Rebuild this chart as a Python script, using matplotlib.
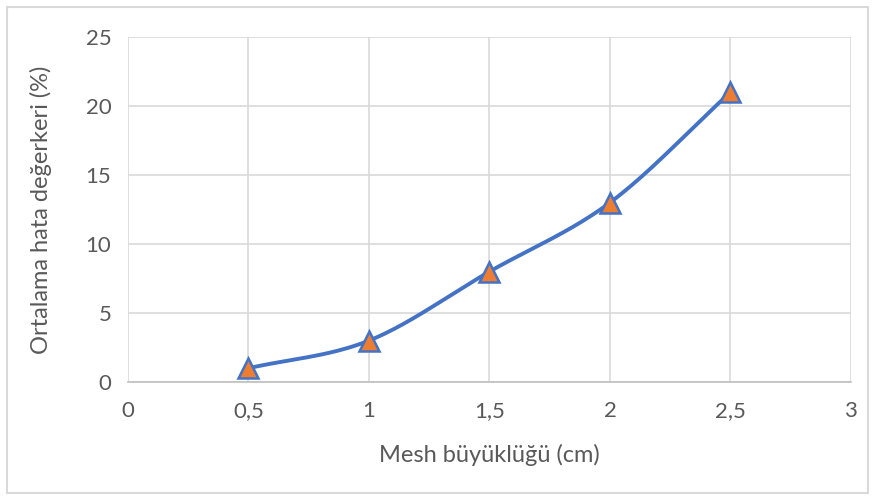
import numpy as np
import matplotlib.pyplot as plt

# data
mesh = [0.5, 1.0, 1.5, 2.0, 2.5]
error = [1, 3, 8, 13, 21]
xticks = [0, 0.5, 1, 1.5, 2, 2.5, 3]
yticks = [0, 5, 10, 15, 20, 25]

plt.rcParams['font.family'] = ['Lato', 'DejaVu Sans']


def smooth(xs, ys, n=40):
    # catmull-rom spline, similar to Excel's smoothed line
    p = np.column_stack([xs, ys]).astype(float)
    p = np.vstack([2 * p[0] - p[1], p, 2 * p[-1] - p[-2]])
    out = []
    t = np.linspace(0, 1, n)[:, None]
    for i in range(1, len(p) - 2):
        p0, p1, p2, p3 = p[i - 1], p[i], p[i + 1], p[i + 2]
        seg = 0.5 * ((2 * p1) + (-p0 + p2) * t + (2 * p0 - 5 * p1 + 4 * p2 - p3) * t ** 2
                     + (-p0 + 3 * p1 - 3 * p2 + p3) * t ** 3)
        out.append(seg)
    out = np.vstack(out)
    return out[:, 0], out[:, 1]


fig = plt.figure(figsize=(8.76, 5.01), dpi=100)
ax = fig.add_axes([0.1461, 0.2375, 0.8253, 0.6886])

sx, sy = smooth(mesh, error)
ax.plot(sx, sy, color='#4472C4', lw=2.8, solid_capstyle='round', zorder=3)
ax.plot(mesh, error, linestyle='none', marker='^', ms=15, mfc='#ED7D31',
        mec='#4472C4', mew=1.8, zorder=4)

ax.set_xlim(0, 3)
ax.set_ylim(0, 25)
ax.set_xticks(xticks)
ax.set_yticks(yticks)
ax.set_xticklabels([f'{v:g}'.replace('.', ',') for v in xticks])
ax.grid(True, color='#D9D9D9', lw=1.2)
ax.set_axisbelow(True)
for s in ['top', 'right', 'left']:
    ax.spines[s].set_visible(False)
ax.spines['bottom'].set_color('#BFBFBF')
ax.spines['bottom'].set_linewidth(1.2)
ax.tick_params(length=0, labelsize=16, colors='#595959', pad=12)
ax.tick_params(axis='x', pad=14)

ax.set_xlabel('Mesh büyüklüğü (cm)', fontsize=17, color='#595959', labelpad=16)
ax.set_ylabel('Ortalama hata değerkeri (%)', fontsize=17, color='#595959', labelpad=24)

# light chart-area border
border = plt.Rectangle((0.008, 0.016), 0.983, 0.97, transform=fig.transFigure,
                       fill=False, edgecolor='#D9D9D9', lw=1.5)
fig.patches.append(border)

fig.savefig('out.png', dpi=100)
